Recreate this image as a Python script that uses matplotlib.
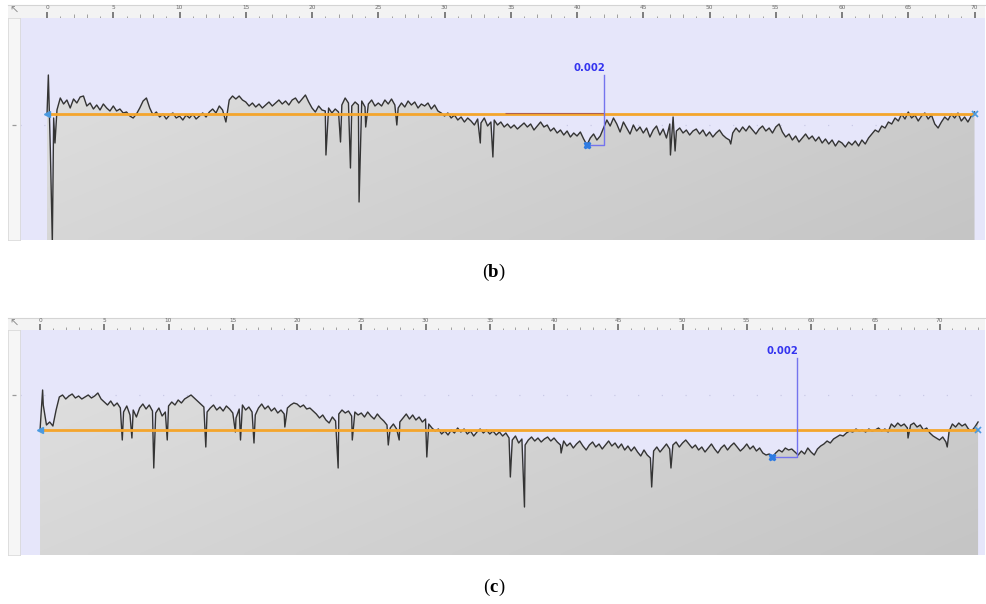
import numpy as np
import matplotlib
matplotlib.use("Agg")
import matplotlib.pyplot as plt
from matplotlib import transforms
from matplotlib.colors import LinearSegmentedColormap

STEP = 0.25  # mm between profile samples

# profile (b): height in nm above the mean line, every 0.25 mm from 0 to 70 mm
z_b = [
    0, -2520, -280, 280, 1120, 700, 980, 420, 1050, 770, 1190, 1260, 560, 770, 350, 630, 280, 700, 420, 210,
    560, 210, 350, 70, 140, -140, -280, 0, 420, 910, 1120, 420, -70, 140, -210, 0, -350, -70, 70, -280,
    -140, -420, -70, -280, 0, -350, -140, 70, -210, 140, 350, 70, 560, 280, -560, 980, 1260, 1050, 1260, 980,
    840, 560, 770, 490, 700, 420, 630, 840, 560, 770, 980, 700, 910, 630, 980, 1120, 770, 1050, 1330, 840,
    420, 140, 560, 280, 210, 420, 70, 350, 140, 630, 1120, 770, 560, 840, 630, 910, 490, 700, 980, 560,
    770, 560, 980, 700, 1050, 630, 420, 770, 490, 910, 630, 840, 420, 700, 560, 770, 350, 630, 210, 70,
    -140, 70, -280, -70, -420, -210, -560, -280, -490, -770, -350, -630, -280, -840, -560, -420, -770, -560, -910, -700,
    -980, -770, -1050, -840, -630, -910, -700, -1120, -840, -560, -910, -770, -1190, -980, -1330, -1120, -1470, -1190, -1610, -1330,
    -1540, -1260, -1750, -2170, -1680, -1400, -1820, -1540, -980, -420, -840, -280, -700, -1260, -560, -980, -1400, -770, -1190, -910,
    -1330, -980, -1610, -1120, -840, -1470, -1050, -1680, -700, -210, -1190, -980, -1330, -1120, -1470, -1190, -1050, -1400, -1120, -1540,
    -1260, -1610, -1330, -1120, -1470, -1680, -1820, -1330, -980, -1260, -910, -1190, -840, -1120, -1400, -1050, -840, -1190, -980, -1330,
    -910, -700, -1260, -1610, -1400, -1820, -1540, -1960, -1680, -1400, -1750, -1540, -1890, -1610, -2030, -1750, -2100, -1820, -2240, -1890,
    -2030, -2310, -1960, -2170, -1890, -2240, -1820, -2100, -1680, -1400, -1120, -1260, -840, -980, -560, -700, -280, -490, 0, -350,
    140, -280, -70, -490, -140, 70, -350, -70, -700, -980, -560, -210, -420, 0, -280, 70, -490, -210, -560, -140,
    140,
]
# narrow pits and peaks between samples: (position mm, height nm)
spikes_b = [(0.1, 2730), (0.4, -9000), (0.6, -2030), (21.05, -2870), (22.15, -1960),
            (22.9, -3780), (23.55, -6160), (24.05, -910), (26.4, -770), (32.7, -2030),
            (33.65, -3010), (47.05, -2870), (47.4, -2590), (51.6, -2100)]
valley_b = 40.75

# profile (c): height in nm above the mean line, every 0.25 mm from 0 to 73 mm
z_c = [
    0, 1750, 350, 560, 280, 1400, 2310, 2450, 2170, 2380, 2520, 2240, 2380, 2170, 2310, 2450, 2240, 2380, 2590, 2170,
    1960, 1750, 2030, 1680, 1890, 1540, 1260, 1680, 1050, 1400, 910, 1540, 1820, 1470, 1750, 1330, 1190, 1540, 980, 1260,
    1680, 1960, 1750, 2100, 1890, 2170, 2310, 2450, 2240, 2030, 1820, 1610, 1260, 1540, 1750, 1400, 1610, 1330, 1680, 1470,
    1190, 840, 1470, 1750, 1400, 1610, 1260, 1050, 1540, 1820, 1470, 1680, 1330, 1540, 1190, 1400, 1120, 1540, 1750, 1890,
    1820, 1610, 1750, 1470, 1540, 1330, 1120, 840, 1050, 700, 490, 910, 630, 1120, 1400, 1190, 1330, 980, 1260, 1050,
    1190, 910, 1260, 980, 770, 1120, 840, 630, 350, 140, 420, 70, 560, 840, 1120, 770, 1050, 700, 910, 560,
    770, 420, 140, -70, 70, -280, -70, -350, 0, -210, 140, -140, 70, -280, -70, -420, -140, 70, -210, 0,
    -280, -70, -350, -140, -420, -210, -560, -700, -420, -910, -630, -1050, -700, -490, -770, -560, -840, -630, -490, -770,
    -560, -840, -1050, -770, -1120, -910, -1260, -980, -770, -1120, -1400, -1050, -840, -1190, -980, -1330, -1050, -770, -1120, -910,
    -1260, -980, -1400, -1120, -1470, -1190, -1540, -1820, -1400, -1750, -1960, -1470, -1190, -1540, -1260, -980, -1330, -1050, -840, -1190,
    -910, -700, -980, -1260, -1050, -1400, -1190, -1540, -1260, -980, -1330, -1610, -1260, -1050, -1400, -1120, -910, -1190, -1470, -1260,
    -980, -1330, -1120, -1470, -1260, -1610, -1750, -1680, -1890, -1610, -1400, -1540, -1260, -1400, -1330, -1540, -1750, -1470, -1680, -1260,
    -1540, -1750, -1330, -1120, -980, -770, -910, -630, -490, -350, -420, -210, -70, -140, 70, -70, 0, -140, 70, -70,
    0, 140, -70, 70, -140, 420, 210, 490, 280, 420, 140, 350, 490, 210, 350, 0, 140, -210, -420, -560,
    -700, -490, -840, -70, 420, 210, 490, 280, 420, 70, -70, 210, 560,
]
spikes_c = [(0.2, 2800), (6.4, -700), (7.15, -560), (8.85, -2660), (9.9, -700), (12.9, -1190),
            (15.2, -140), (15.6, -700), (16.65, -910), (19.05, 210), (23.2, -2660), (24.3, -700),
            (27.1, -1050), (27.95, -700), (30.1, -1890), (36.6, -3290), (37.7, -5390),
            (40.55, -1610), (47.6, -3990), (49.1, -2660), (67.55, -560), (70.6, -1190)]
valley_c = 57.0

ruler_labels = [0, 5, 10, 15, 20, 25, 30, 35, 40, 45, 50, 55, 60, 65, 70]

W, H = 987, 604


def box(x0, y0, x1, y1):
    # pixel box -> figure fraction [left, bottom, width, height]
    return [x0 / W, 1 - y1 / H, (x1 - x0) / W, (y1 - y0) / H]


panels = [
    dict(letter="b", z=z_b, spikes=spikes_b, valley=valley_b,
         main=(20, 18, 985, 240), ruler=(8, 5, 985, 18), gutter=(8, 18, 20, 240),
         xlim=(-2.04, 70.79), ylim=(-8820, 6720), lead=1.29, label_top=2730,
         gutter_tick=-770, seg=(34.6, 42.0), cap_y=277, cap_gap=3.9),
    dict(letter="c", z=z_c, spikes=spikes_c, valley=valley_c,
         main=(20, 330, 985, 555), ruler=(8, 318, 985, 330), gutter=(8, 330, 20, 555),
         xlim=(-1.56, 73.54), ylim=(-8750, 7000), lead=1.9, label_top=5040,
         gutter_tick=2450, seg=None, cap_y=592, cap_gap=3.2),
]

fill_cmap = LinearSegmentedColormap.from_list("fill", ["#e1e1e1", "#c5c5c5"])
grad = np.add.outer(np.linspace(0, 0.35, 60), np.linspace(0, 0.65, 240))

fig = plt.figure(figsize=(W / 100, H / 100), dpi=100)

for p in panels:
    x = np.arange(len(p["z"])) * STEP
    z = np.asarray(p["z"], dtype=float)
    sx = np.array([s[0] for s in p["spikes"]])
    sz = np.array([s[1] for s in p["spikes"]], dtype=float)
    xs = np.concatenate([x, sx])
    zs = np.concatenate([z, sz])
    order = np.argsort(xs, kind="stable")
    xs, zs = xs[order], zs[order]
    x0, x1 = p["xlim"]
    y0, y1 = p["ylim"]

    ax = fig.add_axes(box(*p["main"]))
    ax.set_facecolor("#e6e6fa")
    for s in ax.spines.values():
        s.set_visible(False)
    ax.set_xticks([])
    ax.set_yticks([])

    # faint dotted level line
    ax.axhline(p["gutter_tick"], color="#c9c9e6", lw=0.9, ls=(0, (1, 18)), zorder=0.5)

    # gray body below the profile, shaded left to right
    body = ax.fill_between(xs, zs, y0 - 3000, facecolor="none", edgecolor="none")
    im = ax.imshow(grad, extent=[x0, x1, y0, y1], aspect="auto", cmap=fill_cmap,
                   vmin=0, vmax=1, origin="upper", zorder=1, interpolation="bilinear")
    im.set_clip_path(body.get_paths()[0], transform=ax.transData)

    ax.plot(xs, zs, color="#343434", lw=1.0, zorder=3)

    # mean line
    ax.hlines(0, x[0], x[-1], color="#f4a52c", lw=2.0, zorder=4)
    if p["seg"]:
        ax.hlines(60, p["seg"][0], p["seg"][1], color="#b0604c", lw=0.8, zorder=5)
    ax.plot(x[0], 0, marker="<", ms=4, color="#4a9ae0", zorder=6)
    ax.plot(x[-1], 0, marker="x", ms=4, mew=1.2, color="#4a9ae0", zorder=6)

    # valley depth annotation
    i = int(np.argmin(np.abs(x - p["valley"])))
    vx, vz = x[i], z[i]
    tx = vx + p["lead"]
    ax.plot([vx, tx, tx], [vz, vz, p["label_top"]], color="#7474ee", lw=1.0, zorder=6)
    ax.plot(vx, vz, marker="X", ms=5, color="#2e7be2", zorder=7)
    ax.text(tx + 0.1, p["label_top"] + 150, f"{-vz / 1e6:.3f}", ha="right", va="bottom",
            fontsize=7.3, fontweight="bold", color="#3434ef", zorder=7)

    ax.set_xlim(x0, x1)
    ax.set_ylim(y0, y1)

    # ruler along the top
    rl, rt, rr, rb = p["ruler"]
    upp = (x1 - x0) / (p["main"][2] - p["main"][0])
    rax = fig.add_axes(box(rl, rt, rr, rb))
    rax.set_facecolor("#f3f3f3")
    rax.set_xlim(x0 - (p["main"][0] - rl) * upp, x1)
    rax.set_ylim(0, 1)
    rax.set_xticks([])
    rax.set_yticks([])
    for name, s in rax.spines.items():
        s.set_visible(name == "top")
        s.set_color("#d4d4d4")
        s.set_linewidth(0.8)
    for v in ruler_labels:
        rax.vlines(v, 0.0, 0.5, color="#6a6a6a", lw=1.2)
        rax.text(v, 0.78, str(v), ha="center", va="center", fontsize=4.2, color="#6a6a6a")
    for m in range(0, int(x1) + 1):
        if m % 5:
            h = 0.28 if m % 5 in (2, 3) else 0.16
            rax.vlines(m, 0.0, h, color="#a0a0a0", lw=0.7)
    fig.text((rl + 6) / W, 1 - (rt + 6) / H, "\u2196", ha="center", va="center",
             fontsize=8, color="#8c8c8c")

    # left gutter
    gax = fig.add_axes(box(*p["gutter"]))
    gax.set_facecolor("#f6f6f6")
    gax.set_xticks([])
    gax.set_yticks([])
    for s in gax.spines.values():
        s.set_color("#dadada")
        s.set_linewidth(0.6)
    gax.set_xlim(0, 1)
    gax.set_ylim(y0, y1)
    gax.hlines(p["gutter_tick"], 0.3, 0.7, color="#9a9a9a", lw=0.9)

    # panel caption "(b)" / "(c)"
    cy = 1 - p["cap_y"] / H
    gap = p["cap_gap"]
    cap = dict(fontsize=13.5, family="Liberation Serif", va="baseline")
    fig.text(0.5, cy, p["letter"], ha="center", fontweight="bold", **cap)
    fig.text(0.5, cy, "(", ha="right",
             transform=transforms.offset_copy(fig.transFigure, fig=fig, x=-gap, units="points"), **cap)
    fig.text(0.5, cy, ")", ha="left",
             transform=transforms.offset_copy(fig.transFigure, fig=fig, x=gap, units="points"), **cap)

fig.savefig("out.png", dpi=100)
